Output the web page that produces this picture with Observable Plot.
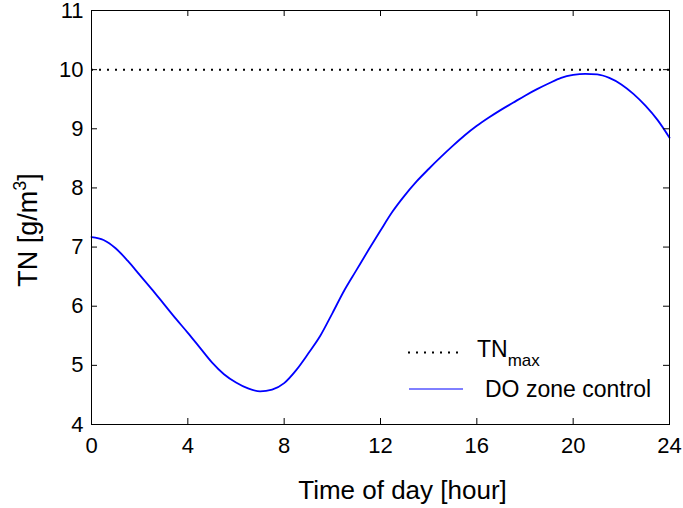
<!DOCTYPE html>
<html><head><meta charset="utf-8">
<script src="https://cdn.jsdelivr.net/npm/d3@7"></script>
<script src="https://cdn.jsdelivr.net/npm/@observablehq/plot@0.6"></script>
<style>body{margin:0;background:#fff} #chart{position:relative;width:683px;height:508px}</style>
</head><body><div id="chart"></div>
<script>
const hours = [0,0.5,1,1.5,2,2.5,3,3.5,4,4.5,5,5.5,6,6.5,7,7.5,8,8.5,9,9.5,10,10.5,11,11.5,12,12.5,13,13.5,14,14.5,15,15.5,16,16.5,17,17.5,18,18.5,19,19.5,20,20.5,21,21.5,22,22.5,23,23.5,24];
const tnValues = [7.17,7.12,6.98,6.77,6.53,6.29,6.04,5.79,5.55,5.30,5.05,4.85,4.71,4.61,4.56,4.59,4.70,4.92,5.20,5.50,5.88,6.27,6.61,6.95,7.28,7.60,7.87,8.11,8.32,8.52,8.71,8.89,9.05,9.19,9.32,9.44,9.56,9.67,9.77,9.86,9.91,9.93,9.92,9.86,9.75,9.59,9.39,9.15,8.85];
const tnMax = 10;
const xTicks = [0,4,8,12,16,20,24];
const yTicks = [4,5,6,7,8,9,10,11];
const xLabel = "Time of day [hour]";
const yLabelParts = {pre: "TN [g/m", sup: "3", post: "]"};
const legendMax = {main: "TN", sub: "max"};
const legendSeries = "DO zone control";

const data = hours.map((h, i) => ({hour: h, tn: tnValues[i]}));
const font = "'Liberation Sans', Arial, sans-serif";
const W = 683, H = 508, mL = 91, mR = 14, mT = 10, mB = 84;
const innerW = W - mL - mR, innerH = H - mT - mB, tk = 6;

const chart = Plot.plot({
  width: W, height: H,
  marginLeft: mL, marginRight: mR, marginTop: mT, marginBottom: mB,
  style: {fontFamily: font, background: "white", color: "black", overflow: "visible"},
  x: {domain: [0, 24]},
  y: {domain: [4, 11]},
  marks: [
    Plot.ruleY([tnMax], {y: d => d, stroke: "black", strokeWidth: 2, strokeDasharray: "2 6"}),
    Plot.line(data, {x: "hour", y: "tn", stroke: "#0000ff", strokeWidth: 1.8, curve: "monotone-x"}),
    // inward ticks on all four sides
    Plot.ruleX(xTicks, {x: d => d, insetTop: innerH - tk, stroke: "black"}),
    Plot.ruleX(xTicks, {x: d => d, insetBottom: innerH - tk, stroke: "black"}),
    Plot.ruleY(yTicks, {y: d => d, insetRight: innerW - tk, stroke: "black"}),
    Plot.ruleY(yTicks, {y: d => d, insetLeft: innerW - tk, stroke: "black"}),
    Plot.frame({stroke: "black"}),
    Plot.axisX({ticks: xTicks, tickSize: 0, tickPadding: 13, fontSize: 22, tickFormat: d => String(d), label: null}),
    Plot.axisY({ticks: yTicks, tickSize: 0, tickPadding: 8, fontSize: 22, tickFormat: d => String(d), label: null}),
    Plot.text([xLabel], {text: d => d, frameAnchor: "bottom", dx: 22, dy: 74, lineAnchor: "bottom", fontSize: 26})
  ]
});
document.getElementById("chart").appendChild(chart);

const svg = d3.select(chart);
// y-axis title with superscript
const yt = svg.append("text")
  .attr("transform", "translate(37,230) rotate(-90)")
  .attr("text-anchor", "middle").attr("font-family", font).attr("font-size", 27)
  .attr("fill", "black");
yt.append("tspan").text(yLabelParts.pre);
yt.append("tspan").attr("font-size", 18).attr("dy", -11).text(yLabelParts.sup);
yt.append("tspan").attr("dy", 11).text(yLabelParts.post);

// legend (no box)
const lg = svg.append("g").attr("font-family", font).attr("fill", "black").attr("text-anchor", "start");
lg.append("line").attr("x1", 408).attr("x2", 461).attr("y1", 352.5).attr("y2", 352.5)
  .attr("stroke", "black").attr("stroke-width", 2).attr("stroke-dasharray", "2 6");
const t1 = lg.append("text").attr("x", 477).attr("y", 357).attr("font-size", 23).text(legendMax.main);
t1.append("tspan").attr("font-size", 17).attr("dy", 9).text(legendMax.sub);
lg.append("line").attr("x1", 409).attr("x2", 463).attr("y1", 389).attr("y2", 389)
  .attr("stroke", "#0000ff").attr("stroke-width", 1);
lg.append("text").attr("x", 485).attr("y", 397).attr("font-size", 23).text(legendSeries);
</script>
</body></html>
